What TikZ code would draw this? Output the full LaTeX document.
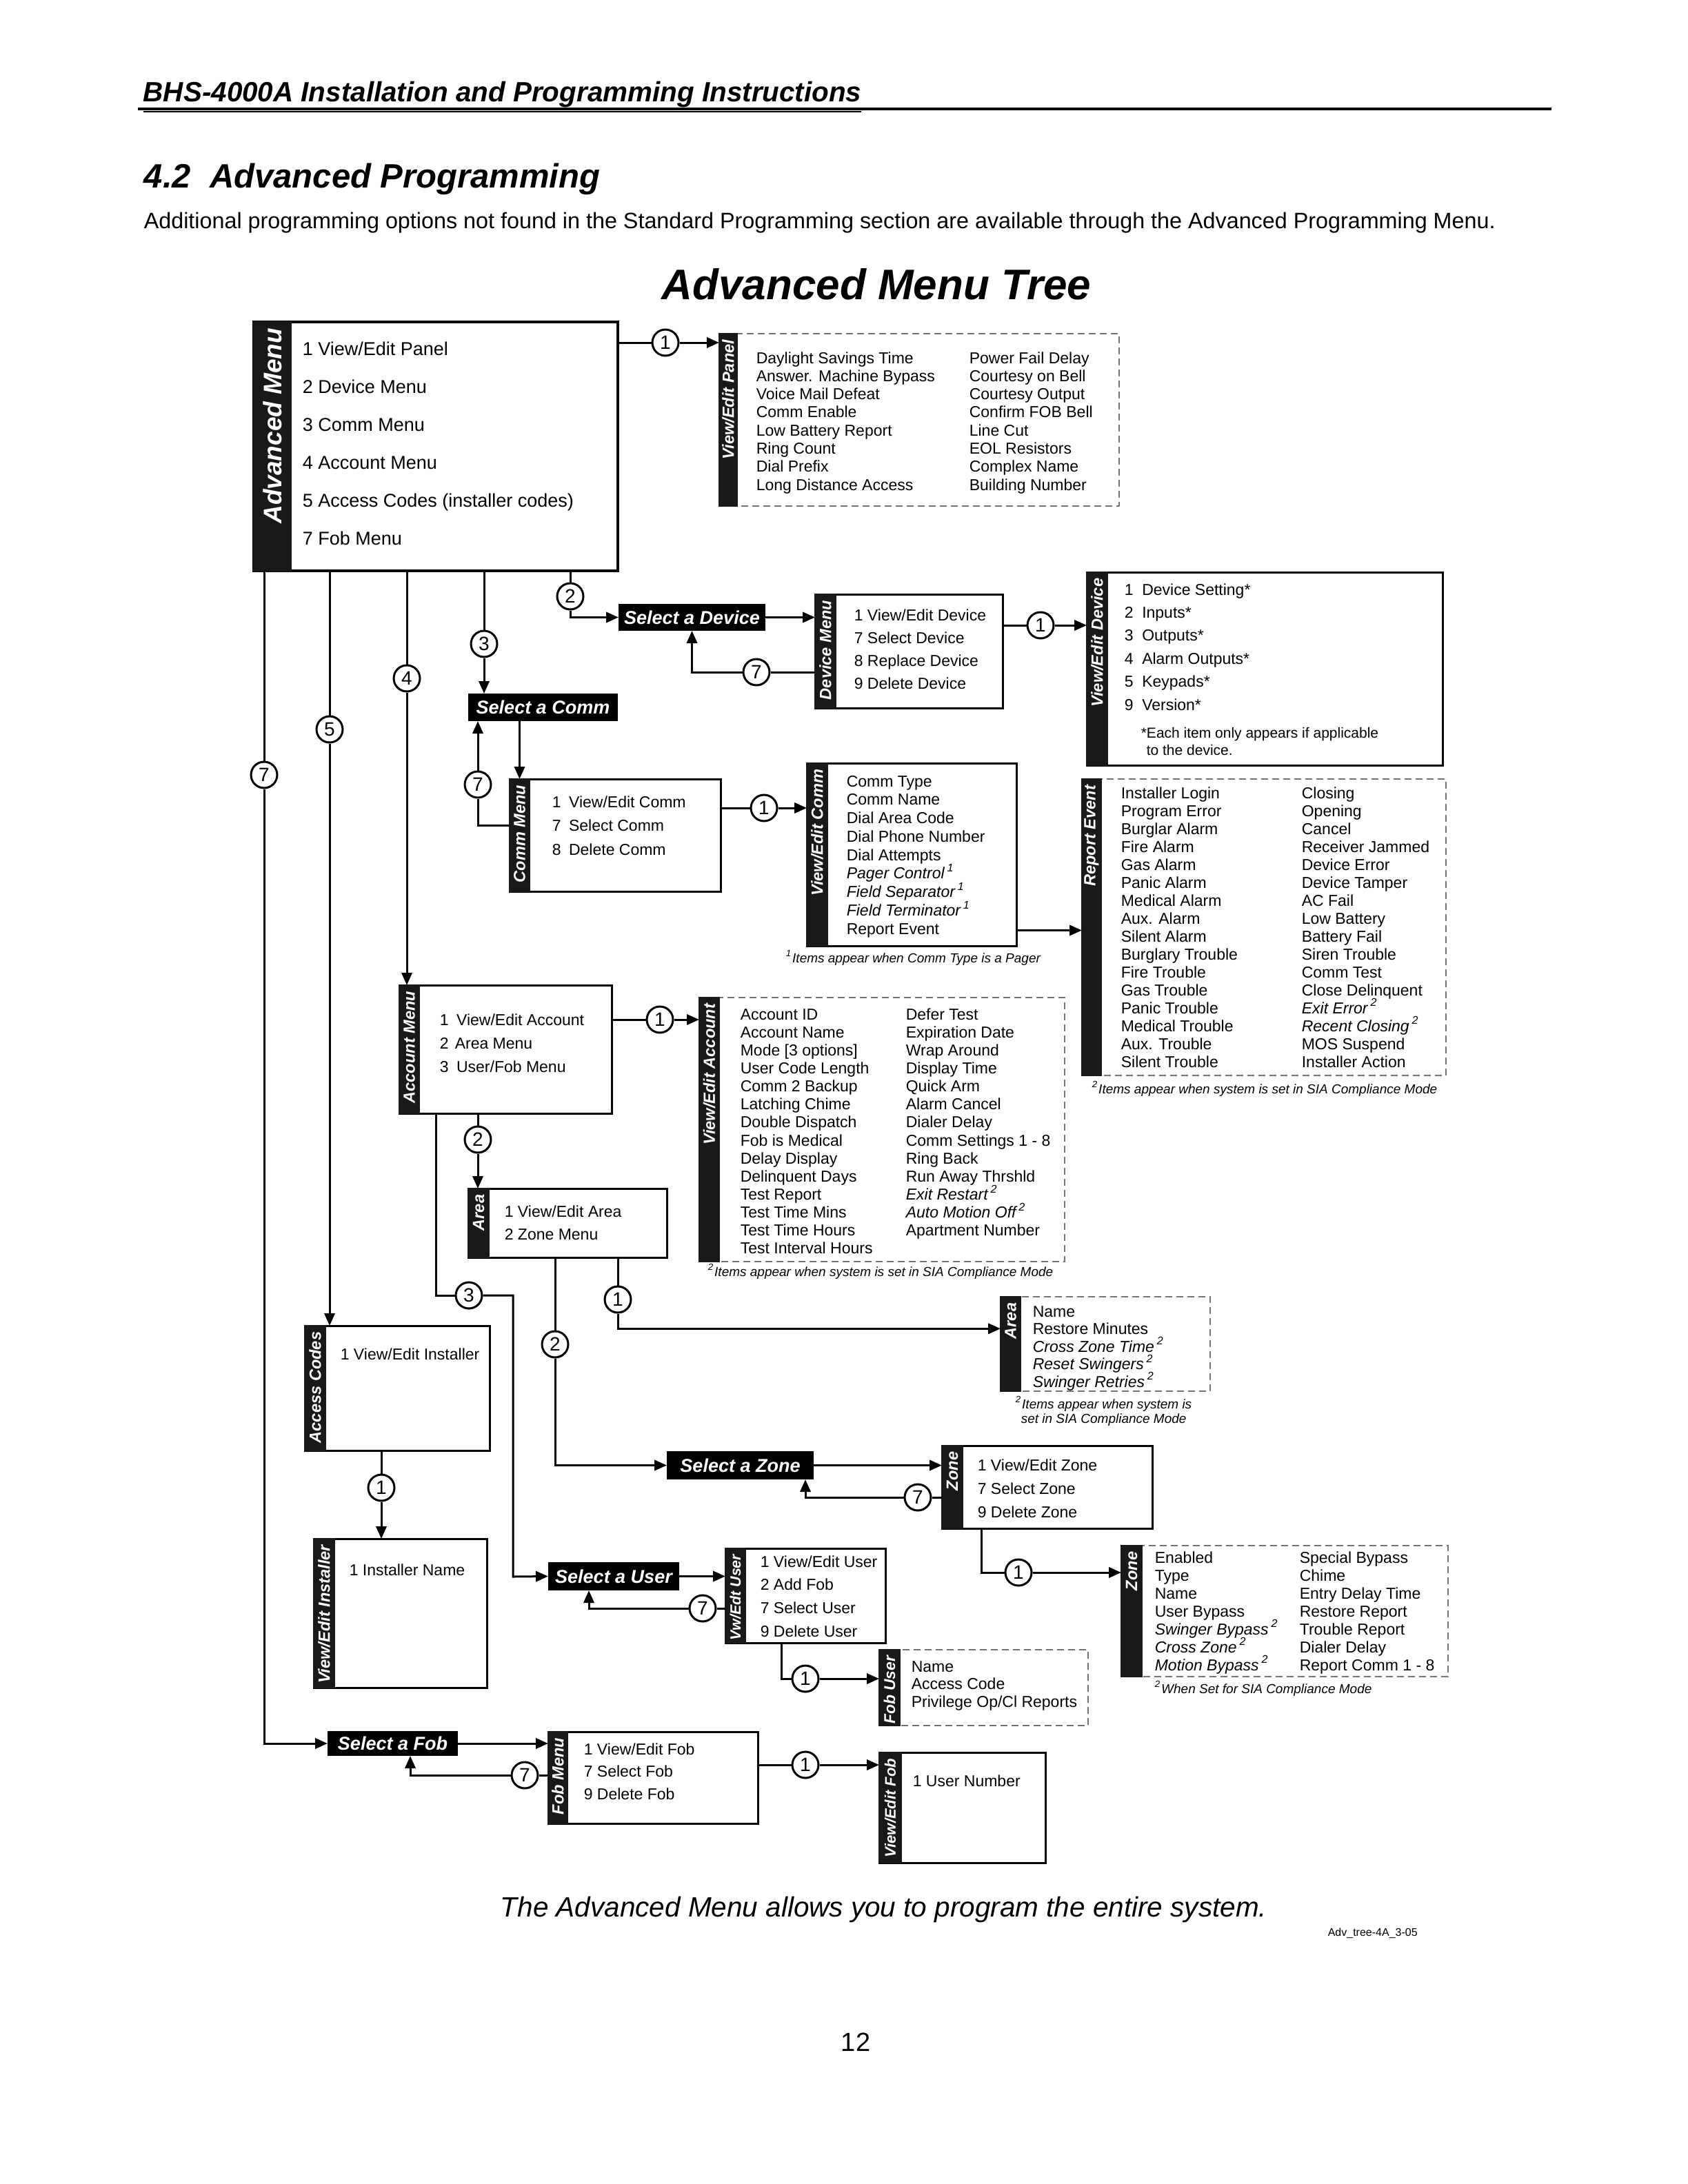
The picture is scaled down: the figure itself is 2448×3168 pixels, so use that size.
\documentclass[tikz,border=0pt]{standalone}
\usepackage{fontspec}
\setmainfont{Liberation Sans}
\usetikzlibrary{arrows.meta}
\newcommand\fItem{\fontsize{5.75pt}{6.5pt}\selectfont}
\newcommand\fMain{\fontsize{6.75pt}{8pt}\selectfont}
\newcommand\fNote{\fontsize{4.75pt}{5.5pt}\selectfont\itshape}
\newcommand\fDevNote{\fontsize{5.25pt}{6pt}\selectfont}
\newcommand\fStrip{\fontsize{5.9pt}{6.5pt}\selectfont\bfseries\itshape}
\newcommand\fSel{\fontsize{6.75pt}{8pt}\selectfont\bfseries\itshape}
\newcommand\fNum{\fontsize{7pt}{8pt}\selectfont}
\newcommand\MenuBox[8]{%
  \node[#2, anchor=north west, minimum width={0.25pt*(#5-#3)}, minimum height={0.25pt*(#6-#4)}] (#1) at (#3,#4) {};
  \node[stripbar, anchor=north west, minimum width={0.25pt*#7}, minimum height={0.25pt*(#6-#4)}] (#1-s) at (#3,#4) {};
  \node[striplabel, rotate=90, anchor=east] (#1-l) at ([yshift=-2pt]#1-s.north) {#8};
}
\newcommand\SelBox[6]{%
  \node[selbox, anchor=north west, minimum width={0.25pt*(#4-#2)}, minimum height={0.25pt*(#5-#3)}] (#1) at (#2,#3) {#6};
}
\newcommand\ListAt[6]{%
  \foreach \itm [count=\i] in {#6}{\node[item, font=#5] (#1-\i) at (#2,{#3+(\i-1)*#4}) {\itm};}
}
\begin{document}
\begin{tikzpicture}[x=0.25pt,y=-0.25pt,
  boxs/.style={draw, line width=0.75pt, inner sep=0pt, outer sep=0pt, fill=white},
  boxd/.style={draw=black!55, dash pattern=on 2.5pt off 1.5pt, line width=0.45pt, inner sep=0pt, outer sep=0pt, fill=white},
  stripbar/.style={fill=black!90, draw=black!90, line width=0.3pt, inner sep=0pt, outer sep=0pt},
  striplabel/.style={text=white, font=\fStrip, inner sep=0pt},
  selbox/.style={fill=black, text=white, font=\fSel, inner sep=0pt, outer sep=0pt},
  num/.style={circle, draw, line width=0.75pt, fill=white, minimum size=9.5pt, inner sep=0pt, font=\fNum},
  conn/.style={line width=0.75pt},
  arr/.style={conn, -{Triangle[length=4.5pt,width=3.8pt]}},
  item/.style={inner sep=0pt, anchor=base west},
  plain/.style={inner sep=0pt}
]
\path[use as bounding box, fill=white] (0,0) rectangle (2448,3168);

% ---------- page texts ----------
\node[plain, anchor=base west, font=\fontsize{10.1pt}{11pt}\selectfont\bfseries\itshape] (hdr) at (207,148) {\underline{BHS-4000A Installation and Programming Instructions}};
\draw[line width=1.1pt] (200,158) -- (2250,158);
\node[plain, anchor=base west, font=\fontsize{12.25pt}{13.5pt}\selectfont\bfseries\itshape] (sec) at (208,272) {4.2\ \ Advanced Programming};
\node[plain, anchor=base west, font=\fontsize{8.08pt}{9pt}\selectfont] (intro) at (208,331) {Additional programming options not found in the Standard Programming section are available through the Advanced Programming Menu.};
\node[plain, anchor=base, font=\fontsize{15.5pt}{17pt}\selectfont\bfseries\itshape] (title) at (1271,434) {Advanced Menu Tree};
\node[plain, anchor=base west, font=\fontsize{10.12pt}{11pt}\selectfont\itshape] (caption) at (725,2780) {The Advanced Menu allows you to program the entire system.};
\node[plain, anchor=base west, font=\fontsize{4pt}{5pt}\selectfont] (ref) at (1925,2808) {Adv\_tree-4A\_3-05};
\node[plain, anchor=base, font=\fontsize{9.5pt}{10pt}\selectfont] (pg) at (1241,2975) {12};

% ---------- boxes ----------
\MenuBox{adv}{boxs, line width=1.2pt}{368}{467}{896}{828}{54}{\fontsize{9.25pt}{10pt}\selectfont Advanced Menu}
\MenuBox{vep}{boxd}{1043}{484}{1623}{734}{26}{View/Edit Panel}
\MenuBox{devmenu}{boxs}{1182}{862}{1454}{1027}{30}{Device Menu}
\MenuBox{ved}{boxs}{1576}{830}{2092}{1110}{30}{View/Edit Device}
\MenuBox{commmenu}{boxs}{739}{1130}{1045}{1293}{29}{Comm Menu}
\MenuBox{vec}{boxs}{1170}{1107}{1474}{1372}{30}{View/Edit Comm}
\MenuBox{rep}{boxd}{1569}{1130}{2097}{1560}{28}{Report Event}
\MenuBox{acct}{boxs}{579}{1429}{887}{1615}{29}{Account Menu}
\MenuBox{vea}{boxd}{1014}{1447}{1544}{1830}{29}{View/Edit Account}
\MenuBox{area}{boxs}{679}{1724}{967}{1824}{30}{Area}
\MenuBox{areaset}{boxd}{1451}{1881}{1755}{2018}{29}{Area}
\MenuBox{acc}{boxs}{442}{1923}{710}{2104}{30}{Access Codes}
\MenuBox{vei}{boxs}{455}{2232}{706}{2448}{30}{View/Edit Installer}
\MenuBox{zone}{boxs}{1366}{2097}{1671}{2217}{30}{Zone}
\MenuBox{zoneset}{boxd}{1626}{2242}{2100}{2432}{30}{Zone}
\MenuBox{veu}{boxs}{1052}{2246}{1284}{2383}{29}{\fontsize{5.35pt}{6pt}\selectfont Vw/Edt User}
\MenuBox{fobuser}{boxd}{1275}{2393}{1578}{2503}{30}{\fontsize{5.7pt}{6pt}\selectfont Fob User}
\MenuBox{fobmenu}{boxs}{795}{2512}{1099}{2645}{28}{Fob Menu}
\MenuBox{vef}{boxs}{1275}{2542}{1516}{2702}{32}{\fontsize{5.5pt}{6pt}\selectfont View/Edit Fob}

\SelBox{seldev}{897}{876}{1110}{915}{Select a Device}
\SelBox{selcomm}{679}{1006}{896}{1046}{Select a Comm}
\SelBox{selzone}{967}{2105}{1180}{2146}{Select a Zone}
\SelBox{seluser}{795}{2266}{985}{2307}{Select a User}
\SelBox{selfob}{475}{2511}{664}{2547}{Select a Fob}

% ---------- box contents ----------
\ListAt{advi}{438}{515}{55}{\fMain}{1 View/Edit Panel,2 Device Menu,3 Comm Menu,4 Account Menu,5 Access Codes (installer codes),7 Fob Menu}
\ListAt{vepa}{1096}{527}{26.3}{\fItem}{Daylight Savings Time,Answer. Machine Bypass,Voice Mail Defeat,Comm Enable,Low Battery Report,Ring Count,Dial Prefix,Long Distance Access}
\ListAt{vepb}{1405}{527}{26.3}{\fItem}{Power Fail Delay,Courtesy on Bell,Courtesy Output,Confirm FOB Bell,Line Cut,EOL Resistors,Complex Name,Building Number}
\ListAt{dmi}{1238}{900}{33.3}{\fItem}{1 View/Edit Device,7 Select Device,8 Replace Device,9 Delete Device}
\ListAt{vedi}{1630}{863}{33.4}{\fItem}{1\hspace{0.55em}Device Setting*,2\hspace{0.55em}Inputs*,3\hspace{0.55em}Outputs*,4\hspace{0.55em}Alarm Outputs*,5\hspace{0.55em}Keypads*,9\hspace{0.55em}Version*}
\node[item, font=\fDevNote] (vednote1) at (1654,1070) {*Each item only appears if applicable};
\node[item, font=\fDevNote] (vednote2) at (1662,1095) {to the device.};
\ListAt{cmi}{800}{1171}{34.5}{\fItem}{1\hspace{0.5em}View/Edit Comm,7\hspace{0.5em}Select Comm,8\hspace{0.5em}Delete Comm}
\ListAt{veci}{1227}{1141}{26.75}{\fItem}{Comm Type,Comm Name,Dial Area Code,Dial Phone Number,Dial Attempts,{\itshape Pager Control\,\textsuperscript{1}},{\itshape Field Separator\,\textsuperscript{1}},{\itshape Field Terminator\,\textsuperscript{1}},Report Event}
\node[item, font=\fNote] (vecnote) at (1139,1396) {\textsuperscript{1}Items appear when Comm Type is a Pager};
\ListAt{repa}{1625}{1158}{26}{\fItem}{Installer Login,Program Error,Burglar Alarm,Fire Alarm,Gas Alarm,Panic Alarm,Medical Alarm,Aux. Alarm,Silent Alarm,Burglary Trouble,Fire Trouble,Gas Trouble,Panic Trouble,Medical Trouble,Aux. Trouble,Silent Trouble}
\ListAt{repb}{1887}{1158}{26}{\fItem}{Closing,Opening,Cancel,Receiver Jammed,Device Error,Device Tamper,AC Fail,Low Battery,Battery Fail,Siren Trouble,Comm Test,Close Delinquent,{\itshape Exit Error\,\textsuperscript{2}},{\itshape Recent Closing\,\textsuperscript{2}},MOS Suspend,Installer Action}
\node[item, font=\fNote] (repnote) at (1583,1586) {\textsuperscript{2}Items appear when system is set in SIA Compliance Mode};
\ListAt{ami}{637}{1487}{34}{\fItem}{1\hspace{0.5em}View/Edit Account,2\hspace{0.4em}Area Menu,3\hspace{0.5em}User/Fob Menu}
\ListAt{veaa}{1073}{1479}{26.15}{\fItem}{Account ID,Account Name,{Mode [3 options]},User Code Length,Comm 2 Backup,Latching Chime,Double Dispatch,Fob is Medical,Delay Display,Delinquent Days,Test Report,Test Time Mins,Test Time Hours,Test Interval Hours}
\ListAt{veab}{1313}{1479}{26.15}{\fItem}{Defer Test,Expiration Date,Wrap Around,Display Time,Quick Arm,Alarm Cancel,Dialer Delay,Comm Settings 1 - 8,Ring Back,Run Away Thrshld,{\itshape Exit Restart\,\textsuperscript{2}},{\itshape Auto Motion Off\,\textsuperscript{2}},Apartment Number}
\node[item, font=\fNote] (veanote) at (1026,1851) {\textsuperscript{2}Items appear when system is set in SIA Compliance Mode};
\ListAt{ari}{731}{1765}{33}{\fItem}{1 View/Edit Area,2 Zone Menu}
\ListAt{asi}{1497}{1910}{25.5}{\fItem}{Name,Restore Minutes,{\itshape Cross Zone Time\,\textsuperscript{2}},{\itshape Reset Swingers\,\textsuperscript{2}},{\itshape Swinger Retries\,\textsuperscript{2}}}
\node[item, font=\fNote] (asnote1) at (1472,2043) {\textsuperscript{2}Items appear when system is};
\node[item, font=\fNote] (asnote2) at (1480,2064) {set in SIA Compliance Mode};
\node[item, font=\fItem] (acci) at (493,1972) {1 View/Edit Installer};
\node[item, font=\fItem] (veii) at (506,2285) {1 Installer Name};
\ListAt{zmi}{1417}{2133}{34}{\fItem}{1 View/Edit Zone,7 Select Zone,9 Delete Zone}
\ListAt{zsa}{1674}{2267}{26}{\fItem}{Enabled,Type,Name,User Bypass,{\itshape Swinger Bypass\,\textsuperscript{2}},{\itshape Cross Zone\,\textsuperscript{2}},{\itshape Motion Bypass\,\textsuperscript{2}}}
\ListAt{zsb}{1884}{2267}{26}{\fItem}{Special Bypass,Chime,Entry Delay Time,Restore Report,Trouble Report,Dialer Delay,Report Comm 1 - 8}
\node[item, font=\fNote] (zsnote) at (1674,2456) {\textsuperscript{2}When Set for SIA Compliance Mode};
\ListAt{vui}{1102}{2273}{33.7}{\fItem}{1 View/Edit User,2 Add Fob,7 Select User,9 Delete User}
\ListAt{fui}{1321}{2425}{25.5}{\fItem}{Name,Access Code,Privilege Op/Cl Reports}
\ListAt{fmi}{846}{2545}{32.5}{\fItem}{1 View/Edit Fob,7 Select Fob,9 Delete Fob}
\node[item, font=\fItem] (vefi) at (1323,2591) {1 User Number};

% ---------- numbered circles ----------
\node[num] (c1p) at (965,497) {1};
\node[num] (c2) at (827,865) {2};
\node[num] (c3) at (702,934) {3};
\node[num] (c4) at (590,984) {4};
\node[num] (c5) at (478,1058) {5};
\node[num] (c7) at (383,1124) {7};
\node[num] (c7d) at (1097,975) {7};
\node[num] (c1d) at (1509,907) {1};
\node[num] (c7c) at (693,1138) {7};
\node[num] (c1c) at (1108,1172) {1};
\node[num] (ca1) at (957,1479) {1};
\node[num] (ca2) at (693,1653) {2};
\node[num] (ca3) at (680,1879) {3};
\node[num] (cr1) at (896,1885) {1};
\node[num] (cr2) at (805,1950) {2};
\node[num] (cac1) at (553,2158) {1};
\node[num] (cz7) at (1331,2172) {7};
\node[num] (cz1) at (1477,2281) {1};
\node[num] (cu7) at (1019,2333) {7};
\node[num] (cu1) at (1168,2435) {1};
\node[num] (cf7) at (761,2575) {7};
\node[num] (cf1) at (1168,2560) {1};

% bend points
\coordinate (k3) at (632,1879);
\coordinate (k3b) at (744,2287);
\coordinate (kz) at (1168,2172);
\coordinate (kz1) at (1423,2281);
\coordinate (ku) at (854,2333);
\coordinate (ku1) at (1133,2435);
\coordinate (kf) at (595,2575);

% ---------- connectors ----------
% Advanced menu
\draw[conn] (adv.east |- c1p) -- (c1p);
\draw[arr] (c1p) -- (vep.west |- c1p);
\draw[conn] (c2 |- adv.south) -- (c2);
\draw[arr] (c2) |- (seldev.west);
\draw[conn] (c3 |- adv.south) -- (c3);
\draw[arr] (c3) -- (c3 |- selcomm.north);
\draw[conn] (c4 |- adv.south) -- (c4);
\draw[arr] (c4) -- (c4 |- acct.north);
\draw[conn] (c5 |- adv.south) -- (c5);
\draw[arr] (c5) -- (c5 |- acc.north);
\draw[conn] (c7 |- adv.south) -- (c7);
\draw[arr] (c7) |- (selfob.west);
% Device
\draw[arr] (seldev.east) -- (devmenu.west |- seldev.east);
\draw[conn] (devmenu.west |- c7d) -- (c7d);
\draw[arr] (c7d) -| (seldev.south);
\draw[conn] (devmenu.east |- c1d) -- (c1d);
\draw[arr] (c1d) -- (ved.west |- c1d);
% Comm
\draw[arr] (selcomm.south -| commmenu-s.north) -- (commmenu-s.north);
\draw[conn] (commmenu.west |- cmi-2) -| (c7c);
\draw[arr] (c7c) -- (c7c |- selcomm.south);
\draw[conn] (commmenu.east |- c1c) -- (c1c);
\draw[arr] (c1c) -- (vec.west |- c1c);
\draw[arr] (vec.east |- veci-9) -- (rep.west |- veci-9);
% Account
\draw[conn] (acct.east |- ca1) -- (ca1);
\draw[arr] (ca1) -- (vea.west |- ca1);
\draw[conn] (ca2 |- acct.south) -- (ca2);
\draw[arr] (ca2) -- (ca2 |- area.north);
\draw[conn] (k3 |- acct.south) -- (k3) -- (ca3);
\draw[arr] (ca3) -| (k3b) -- (seluser.west);
% Area
\draw[conn] (cr1 |- area.south) -- (cr1);
\draw[arr] (cr1) |- (areaset.west |- asi-2);
\draw[conn] (cr2 |- area.south) -- (cr2);
\draw[arr] (cr2) |- (selzone.west);
% Zone
\draw[arr] (selzone.east) -- (zone.west |- selzone.east);
\draw[conn] (zone.west |- cz7) -- (cz7);
\draw[arr] (cz7) -- (kz) -- (kz |- selzone.south);
\draw[conn] (kz1 |- zone.south) -- (kz1) -- (cz1);
\draw[arr] (cz1) -- (zoneset.west |- cz1);
% Access codes
\draw[conn] (cac1 |- acc.south) -- (cac1);
\draw[arr] (cac1) -- (cac1 |- vei.north);
% User
\draw[arr] (seluser.east) -- (veu.west |- seluser.east);
\draw[conn] (veu.west |- cu7) -- (cu7);
\draw[arr] (cu7) -- (ku) -- (ku |- seluser.south);
\draw[conn] (ku1 |- veu.south) -- (ku1) -- (cu1);
\draw[arr] (cu1) -- (fobuser.west |- cu1);
% Fob
\draw[arr] (selfob.east) -- (fobmenu.west |- selfob.east);
\draw[conn] (fobmenu.west |- cf7) -- (cf7);
\draw[arr] (cf7) -- (kf) -- (kf |- selfob.south);
\draw[conn] (fobmenu.east |- cf1) -- (cf1);
\draw[arr] (cf1) -- (vef.west |- cf1);
\end{tikzpicture}
\end{document}
